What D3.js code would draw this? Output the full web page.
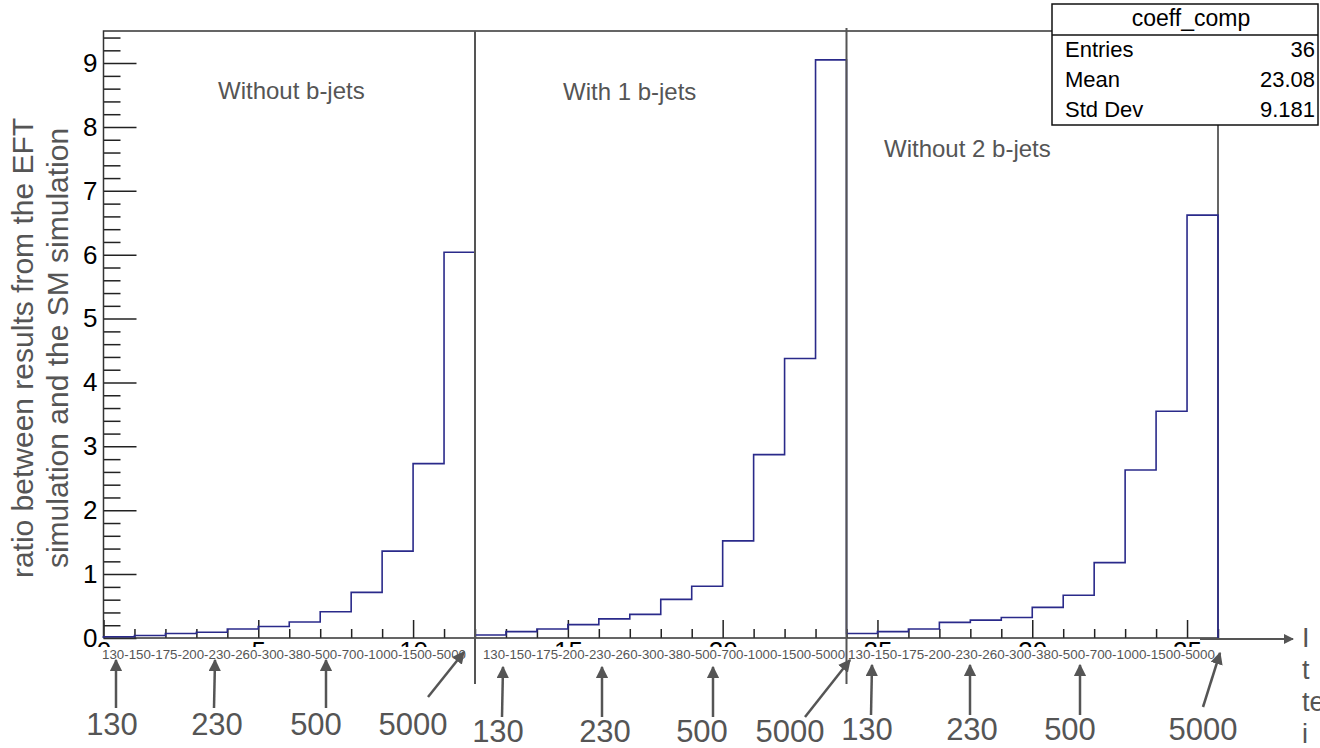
<!DOCTYPE html>
<html>
<head>
<meta charset="utf-8">
<script src="https://cdn.jsdelivr.net/npm/d3@7"></script>
<style>
  html, body { margin: 0; padding: 0; background: #fff; overflow: hidden; }
  svg { display: block; font-family: "Liberation Sans", Arial, Helvetica, sans-serif; }
</style>
</head>
<body>
<svg id="chart" width="1320" height="748"></svg>
<script>
// bin edges (pT intervals) used in each of the three groups
const binLabels = ["130", "150", "175", "200", "230", "260", "300", "380", "500", "700", "1000", "1500", "5000"];
const panelTitles = ["Without b-jets", "With 1 b-jets", "Without 2 b-jets"];

// ratio EFT / SM per bin
const noBjets  = [0.02, 0.04, 0.07, 0.09, 0.14, 0.18, 0.25, 0.41, 0.715, 1.36, 2.73, 6.04];
const oneBjet  = [0.047, 0.10, 0.14, 0.21, 0.30, 0.37, 0.605, 0.81, 1.52, 2.87, 4.375, 9.05];
const twoBjets = [0.07, 0.10, 0.14, 0.245, 0.28, 0.32, 0.48, 0.67, 1.18, 2.63, 3.55, 6.62];

// stats box
const statsTitle = "coeff_comp";
const statsRows = [["Entries", "36"], ["Mean", "23.08"], ["Std Dev", "9.181"]];

const yMajorTicks = [0, 1, 2, 3, 4, 5, 6, 7, 8, 9];
const xMajorTicks = [0, 5, 10, 15, 20, 25, 30, 35];
const callouts = ["130", "230", "500", "5000"];
const yTitle = ["ratio between results from the EFT", "simulation and the SM simulation"];
// note on the right, only its first letters are inside the picture
const sideNote = ["I", "t", "te", "i"];

// layout
const frame = { left: 103.5, right: 1218, top: 31, bottom: 638 };
const GRAY = "#555";
const HIST = "#2a2a8a";

const svg = d3.select('#chart');

const values = noBjets.concat(oneBjet, twoBjets);
const nBins = values.length;
const perPanel = noBjets.length;

const x = d3.scaleLinear().domain([0, nBins]).range([frame.left, frame.right]);
const y = d3.scaleLinear().domain([0, d3.max(values) * 1.05]).range([frame.bottom, frame.top]);

// arrow head marker
svg.append('defs').append('marker')
    .attr('id', 'head')
    .attr('viewBox', '0 0 10 10')
    .attr('refX', 9).attr('refY', 5)
    .attr('markerWidth', 5).attr('markerHeight', 5)
    .attr('markerUnits', 'strokeWidth')
    .attr('orient', 'auto')
  .append('path')
    .attr('d', 'M0,0 L10,5 L0,10 z')
    .attr('fill', GRAY);

// x tick numbers (mostly hidden under the label strip, like the original)
const xAxisG = svg.append('g')
    .attr('transform', `translate(0,${frame.bottom})`)
    .call(d3.axisBottom(x).tickValues(xMajorTicks).tickSize(-18).tickPadding(4));
xAxisG.select('.domain').remove();
xAxisG.selectAll('line').attr('stroke', '#222').attr('stroke-width', 1.5);
xAxisG.selectAll('text').attr('font-size', 26).attr('fill', '#000');

const xMinor = svg.append('g')
    .attr('transform', `translate(0,${frame.bottom})`)
    .call(d3.axisBottom(x).tickValues(d3.range(0, nBins + 1).filter(d => d % 5 !== 0))
        .tickSize(-9).tickFormat(''));
xMinor.select('.domain').remove();
xMinor.selectAll('line').attr('stroke', '#222').attr('stroke-width', 1.5);

// white strip that hides the numeric labels
svg.append('rect')
    .attr('x', 90).attr('y', frame.bottom + 9)
    .attr('width', x(nBins) - 90 + 10).attr('height', 45)
    .attr('fill', '#fff');

// y axis
const yAxisG = svg.append('g')
    .attr('transform', `translate(${frame.left},0)`)
    .call(d3.axisLeft(y).tickValues(yMajorTicks).tickSize(-33).tickPadding(6));
yAxisG.select('.domain').remove();
yAxisG.selectAll('line').attr('stroke', '#222').attr('stroke-width', 1.5);
yAxisG.selectAll('text').attr('font-size', 26).attr('fill', '#000');

const yMinorVals = d3.range(0, 48).map(i => i / 5).filter(v => v <= y.domain()[1] && Math.abs(v - Math.round(v)) > 1e-6);
const yMinor = svg.append('g')
    .attr('transform', `translate(${frame.left},0)`)
    .call(d3.axisLeft(y).tickValues(yMinorVals).tickSize(-17).tickFormat(''));
yMinor.select('.domain').remove();
yMinor.selectAll('line').attr('stroke', '#222').attr('stroke-width', 1.5);

// frame
svg.append('path')
    .attr('d', `M${frame.left},${frame.bottom} V${frame.top} H${frame.right} V${frame.bottom} H${frame.left}`)
    .attr('fill', 'none')
    .attr('stroke', '#333')
    .attr('stroke-width', 1.5);

// histogram outline
let d = `M${x(0)},${y(0)}`;
values.forEach((v, i) => {
    d += ` V${y(v)} H${x(i + 1)}`;
});
d += ` V${y(0)}`;
svg.append('path')
    .attr('d', d)
    .attr('fill', 'none')
    .attr('stroke', HIST)
    .attr('stroke-width', 1.6);

// panel titles
const titlePos = [[218, 99], [563, 100], [884, 157]];
svg.selectAll('.ptitle')
    .data(panelTitles)
    .enter().append('text')
    .attr('class', 'ptitle')
    .attr('x', (t, i) => titlePos[i][0])
    .attr('y', (t, i) => titlePos[i][1])
    .attr('font-size', 24)
    .attr('fill', GRAY)
    .text(t => t);

// small bin-edge strings under each group
const stripPos = [[102, 466], [483, 845], [848, 1215]];
svg.selectAll('.strip')
    .data(stripPos)
    .enter().append('text')
    .attr('class', 'strip')
    .attr('x', p => p[0])
    .attr('y', 659)
    .attr('font-size', 13)
    .attr('fill', GRAY)
    .attr('textLength', p => p[1] - p[0])
    .attr('lengthAdjust', 'spacingAndGlyphs')
    .text(binLabels.join('-'));

// group separators
[perPanel, perPanel * 2].forEach((b, i) => {
    svg.append('line')
        .attr('x1', x(b)).attr('x2', x(b))
        .attr('y1', i === 0 ? frame.top : frame.top - 3).attr('y2', 684)
        .attr('stroke', GRAY)
        .attr('stroke-width', 2);
});

// x axis arrow extending past the frame
svg.append('line')
    .attr('x1', 1200).attr('y1', frame.bottom + 1)
    .attr('x2', 1293).attr('y2', frame.bottom + 1)
    .attr('stroke', GRAY)
    .attr('stroke-width', 2)
    .attr('marker-end', 'url(#head)');

// callout arrows and big labels: [labelX, baseline, tailX, tailY, tipX, tipY]
const calloutLayout = [
    [[112, 735, 116, 708, 116, 660], [217, 735, 214, 708, 215, 660], [316, 735, 326, 708, 326, 660], [413, 735, 428, 697, 464, 652]],
    [[498, 742, 502, 717, 503, 667], [605, 742, 602, 717, 602, 667], [702, 742, 713, 717, 713, 667], [790, 742, 805, 717, 850, 660]],
    [[867, 740, 871, 715, 872, 665], [972, 740, 970, 715, 970, 665], [1070, 740, 1080, 715, 1080, 665], [1203, 740, 1203, 707, 1220, 653]]
];
calloutLayout.forEach(panel => {
    panel.forEach((c, i) => {
        svg.append('line')
            .attr('x1', c[2]).attr('y1', c[3])
            .attr('x2', c[4]).attr('y2', c[5])
            .attr('stroke', GRAY)
            .attr('stroke-width', 2.5)
            .attr('marker-end', 'url(#head)');
        svg.append('text')
            .attr('x', c[0]).attr('y', c[1])
            .attr('text-anchor', 'middle')
            .attr('font-size', 31)
            .attr('fill', GRAY)
            .text(callouts[i]);
    });
});

// y axis title (two lines)
const yTitleX = [33, 68];
yTitle.forEach((t, i) => {
    svg.append('text')
        .attr('transform', `translate(${yTitleX[i]},${348}) rotate(-90)`)
        .attr('text-anchor', 'middle')
        .attr('font-size', 30)
        .attr('fill', GRAY)
        .text(t);
});

// note on the right edge
sideNote.forEach((t, i) => {
    svg.append('text')
        .attr('x', 1302)
        .attr('y', 647 + i * 32)
        .attr('font-size', 27)
        .attr('fill', GRAY)
        .text(t);
});

// stats box
const box = { x: 1052, y: 4, w: 266, h: 121, head: 31 };
const sb = svg.append('g');
sb.append('rect')
    .attr('x', box.x).attr('y', box.y)
    .attr('width', box.w).attr('height', box.h)
    .attr('fill', '#fff')
    .attr('stroke', '#111')
    .attr('stroke-width', 1.5);
sb.append('line')
    .attr('x1', box.x).attr('x2', box.x + box.w)
    .attr('y1', box.y + box.head).attr('y2', box.y + box.head)
    .attr('stroke', '#111').attr('stroke-width', 1.5);
sb.append('text')
    .attr('x', box.x + box.w / 2 + 6).attr('y', 26)
    .attr('text-anchor', 'middle')
    .attr('font-size', 23)
    .text(statsTitle);
statsRows.forEach((r, i) => {
    sb.append('text')
        .attr('x', 1065).attr('y', 57 + i * 30)
        .attr('font-size', 22)
        .text(r[0]);
    sb.append('text')
        .attr('x', 1315).attr('y', 57 + i * 30)
        .attr('text-anchor', 'end')
        .attr('font-size', 22)
        .text(r[1]);
});
</script>
</body>
</html>
